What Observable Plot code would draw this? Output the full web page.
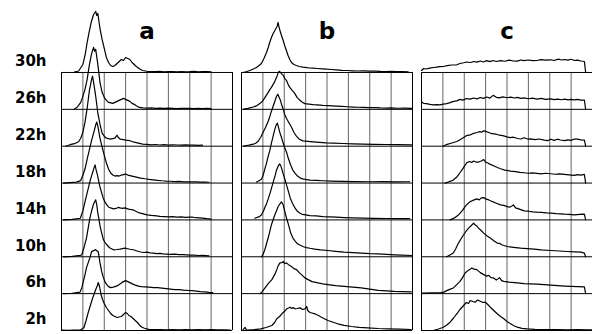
<!DOCTYPE html>
<html><head><meta charset="utf-8">
<script src="https://cdn.jsdelivr.net/npm/d3@7"></script>
<script src="https://cdn.jsdelivr.net/npm/@observablehq/plot@0.6"></script>
<style>body{margin:0;background:#fff}#chart svg{display:block}</style>
</head><body><div id="chart"></div>
<script>
const panels = ["a", "b", "c"];
const times = ["2h", "6h", "10h", "14h", "18h", "22h", "26h", "30h"]; // bottom row to top row
const gridCols = [0, 1, 2, 3, 4, 5, 6, 7, 8];

// panel a: [channel (grid units), count]
const a30 = [[0.6,0.4],[0.8,1.5],[1.0,8],[1.1,17],[1.2,30],[1.3,41],[1.4,51],[1.5,58],[1.6,61],[1.65,57],[1.7,59],[1.8,44],[1.9,33],[2.0,24],[2.1,15],[2.2,10],[2.3,7],[2.4,6],[2.5,7],[2.6,9],[2.7,11],[2.8,13],[2.9,12],[3.0,15],[3.1,14],[3.2,13],[3.3,10],[3.4,8],[3.5,6],[3.6,4.5],[3.7,3],[3.8,2],[4.0,1.2],[4.2,1],[4.4,0.8],[4.6,1.1],[4.8,0.7],[5.0,0.9],[5.2,0.8],[5.4,0.6],[5.6,1],[5.8,0.7],[6.0,0.8],[6.2,1.1],[6.4,0.7],[6.6,0.9],[6.8,0.8],[7.0,0.6]];
const a26 = [[0.6,0.3],[0.7,1.5],[0.8,4],[0.9,7],[1.0,13],[1.1,20],[1.2,30],[1.3,44],[1.4,55],[1.5,62],[1.55,58],[1.6,60],[1.7,45],[1.8,27],[1.9,17],[2.0,12],[2.1,9],[2.2,7],[2.3,6.5],[2.4,6],[2.5,7],[2.6,8],[2.7,9],[2.8,10],[2.9,11],[3.0,10],[3.1,9],[3.2,8],[3.3,6],[3.4,5],[3.5,3.5],[3.6,2.3],[3.8,1.5],[4.0,1.2],[4.2,1.4],[4.4,1],[4.6,1.3],[4.8,0.9],[5.0,1.2],[5.2,1],[5.4,0.8],[5.6,1.1],[5.8,0.9],[6.0,1],[6.2,0.8],[6.4,1],[6.6,0.7],[6.8,0.9],[7.0,0.7]];
const a22 = [[0.2,0],[0.4,1.5],[0.6,2.5],[0.8,4.5],[0.9,8],[1.0,14],[1.1,24],[1.2,38],[1.3,55],[1.4,66],[1.45,70],[1.5,64],[1.6,50],[1.7,33],[1.8,22],[1.9,13],[2.0,10],[2.1,8],[2.2,7.5],[2.3,7],[2.4,7.5],[2.5,8],[2.6,11],[2.65,9],[2.75,7],[2.9,6.5],[3.0,6],[3.2,5.5],[3.4,4],[3.6,3],[3.8,2],[4.0,1.8],[4.2,1.4],[4.4,1.7],[4.6,1.2],[4.8,1.5],[5.0,1.1],[5.2,1.4],[5.4,1.2],[5.6,1],[5.8,1.3],[6.0,1],[6.2,1.1],[6.4,0.8],[6.6,1]];
const a18 = [[0.1,0],[0.4,0.5],[0.7,1],[0.9,2.5],[1.0,8],[1.1,14],[1.2,24],[1.3,33],[1.4,42],[1.5,50],[1.6,58],[1.65,61],[1.7,57],[1.8,45],[1.9,36],[2.0,28],[2.1,20],[2.2,14],[2.3,10],[2.4,8],[2.5,7],[2.6,7.5],[2.7,7],[2.8,8],[2.9,8.5],[3.0,9],[3.1,8],[3.2,7.5],[3.3,7],[3.4,6.5],[3.5,6],[3.6,5.5],[3.7,5],[3.9,4.3],[4.1,3.7],[4.3,3.2],[4.5,2.7],[4.7,2.3],[4.9,2],[5.1,1.8],[5.3,1.5],[5.5,1.6],[5.7,1.2],[5.9,1.3],[6.1,1.1],[6.3,1.2],[6.5,0.9],[6.7,1],[6.9,0.8]];
const a14 = [[0.1,0],[0.5,0.6],[0.88,1.7],[1.0,9],[1.12,20],[1.2,27],[1.27,33],[1.35,40],[1.45,47],[1.52,52],[1.57,55],[1.62,50],[1.68,45],[1.73,40],[1.8,33],[1.88,27],[1.95,22],[2.03,18],[2.12,15],[2.2,13],[2.3,12],[2.43,11],[2.55,11.5],[2.65,12.5],[2.74,12],[2.85,11.5],[2.97,12],[3.1,11],[3.2,10.5],[3.36,10],[3.5,8.5],[3.65,7],[3.83,6],[4.0,5],[4.2,4.5],[4.45,4],[4.6,3.5],[4.8,3.3],[5.0,3],[5.2,3.2],[5.4,2.8],[5.6,3],[5.8,2.6],[6.0,2.8],[6.15,2.7],[6.3,2.2],[6.45,2],[6.6,1.7],[6.8,1.2],[7.0,0.8]];
const a10 = [[0.1,0],[0.5,0.5],[0.9,1.5],[0.95,2],[1.05,9],[1.17,19],[1.25,29],[1.33,39],[1.41,46],[1.49,52],[1.55,55],[1.6,57],[1.65,52],[1.69,45],[1.75,38],[1.81,30],[1.9,22],[1.96,17],[2.05,14],[2.12,12],[2.25,9],[2.43,7],[2.6,7.3],[2.74,7.7],[2.85,8.2],[2.97,8.7],[3.1,8],[3.2,7.5],[3.36,7],[3.5,6],[3.65,5],[3.83,4.3],[4.0,4.6],[4.15,3.9],[4.3,3.7],[4.45,3.2],[4.6,3.4],[4.75,2.9],[4.9,2.7],[5.1,2.5],[5.3,2.6],[5.5,2.2],[5.7,2.1],[5.85,2],[6.0,1.7],[6.2,1.6],[6.4,1.3],[6.6,1.4],[6.9,1]];
const a6 = [[0.1,0],[0.5,0.4],[0.87,1.5],[0.95,6],[1.02,12],[1.1,19],[1.17,26],[1.25,31],[1.33,36],[1.41,42],[1.5,43],[1.57,44],[1.65,43],[1.72,42],[1.8,31],[1.88,22],[1.96,16],[2.03,12],[2.12,9],[2.2,7],[2.3,6],[2.42,6.5],[2.5,7],[2.62,8],[2.72,9.5],[2.82,11],[2.9,12],[3.0,13],[3.1,12],[3.2,11],[3.29,10],[3.45,8.5],[3.6,7.5],[3.74,7],[3.9,6.8],[4.1,6.5],[4.3,6],[4.5,6],[4.7,5.5],[4.9,5],[5.1,4.5],[5.3,4],[5.5,4],[5.7,3.5],[5.9,3.2],[6.1,3],[6.3,2.5],[6.5,2],[6.7,1.7],[6.9,1.2],[7.07,1]];
const a2 = [[0.0,0.3],[0.3,0.2],[0.6,0.5],[0.88,0.5],[1.0,2],[1.05,3],[1.15,10],[1.25,18],[1.35,25],[1.45,32],[1.55,38],[1.62,42],[1.68,45],[1.72,48],[1.78,44],[1.85,36],[1.92,31],[2.0,27],[2.1,23],[2.2,20],[2.3,17],[2.4,15],[2.5,14],[2.6,13],[2.7,13.5],[2.8,14],[2.9,16],[3.0,18],[3.08,17],[3.15,15],[3.25,14],[3.35,12],[3.45,10],[3.55,8],[3.65,5.5],[3.75,3.5],[3.85,2.5],[3.95,1.8],[4.1,1],[4.3,0.8],[4.6,1],[4.9,0.7],[5.2,0.9],[5.5,0.6],[5.8,0.8],[6.1,0.7],[6.4,0.9],[6.7,0.6],[7.0,0.8],[7.3,0.6],[7.6,0.7],[7.9,0.5]];

// panel b
const b30 = [[0.08,0],[0.25,1],[0.39,2],[0.55,3.5],[0.7,5],[0.82,7],[0.93,9],[1.05,14],[1.17,20],[1.25,25],[1.32,30],[1.4,35],[1.48,39],[1.56,42],[1.64,45],[1.68,47],[1.71,50],[1.75,46],[1.8,42],[1.87,37],[1.95,32],[2.02,27],[2.1,22],[2.18,17],[2.26,13],[2.34,10],[2.45,8],[2.57,7],[2.7,6],[2.88,5.3],[3.05,4.8],[3.2,4.5],[3.35,4.3],[3.55,4],[3.8,3.7],[4.0,3.3],[4.2,3],[4.44,2.7],[4.7,2.2],[4.95,2],[5.2,1.7],[5.45,1.5],[5.7,1.6],[6.0,1.3],[6.25,1.4],[6.5,1.1],[6.78,1],[7.0,1.2],[7.25,0.8],[7.5,0.9],[7.8,0.7]];
const b26 = [[0.1,0.3],[0.3,1],[0.55,2.3],[0.7,3.5],[0.78,4.7],[0.9,6.5],[1.01,9],[1.13,13],[1.25,17],[1.33,20],[1.4,22],[1.48,25],[1.56,28],[1.64,32],[1.71,36],[1.76,38],[1.82,37],[1.9,35],[1.95,34],[2.02,31],[2.1,29],[2.18,25],[2.26,22],[2.37,19],[2.49,16],[2.6,12],[2.73,9],[2.85,7],[2.96,5.7],[3.15,5.2],[3.35,4.7],[3.55,4.5],[3.8,4],[4.05,3.8],[4.25,3.5],[4.44,3.3],[4.7,2.9],[4.95,2.6],[5.2,2.3],[5.45,2.1],[5.7,1.9],[6.0,1.7],[6.25,1.8],[6.5,1.4],[6.78,1.3],[7.0,1.4],[7.3,1.1],[7.6,1.2],[7.95,1]];
const b22 = [[0.1,0.2],[0.35,1],[0.55,2],[0.66,3],[0.78,5],[0.9,9],[1.01,14],[1.13,19],[1.25,25],[1.33,30],[1.4,35],[1.48,40],[1.56,45],[1.64,50],[1.7,52],[1.76,49],[1.82,46],[1.87,42],[1.95,37],[2.02,32],[2.1,28],[2.18,25],[2.26,22],[2.34,19],[2.45,14],[2.57,10],[2.7,7],[2.88,5.3],[3.1,4.8],[3.35,4.3],[3.65,3.8],[3.97,3.3],[4.3,3],[4.75,2.7],[5.2,2.3],[5.7,2],[6.2,1.8],[6.78,1.7],[7.3,1.5],[7.95,1.3]];
const b18 = [[0.7,1],[0.8,2],[0.93,3.7],[1.0,7],[1.09,14],[1.17,20],[1.25,27],[1.33,33],[1.4,40],[1.48,47],[1.56,54],[1.62,58],[1.68,60],[1.74,55],[1.8,50],[1.88,45],[1.95,40],[2.03,35],[2.12,30],[2.2,24],[2.3,18],[2.4,13],[2.5,10],[2.62,7],[2.75,5],[2.9,4],[3.2,3],[3.5,2.6],[3.8,2.3],[4.2,2],[4.75,1.7],[5.3,1.5],[6.0,1.3],[6.6,1.4],[7.2,1.2],[7.87,1.3]];
const b14 = [[0.62,1.7],[0.8,3],[0.87,4],[0.93,5],[1.03,9],[1.1,13],[1.17,16],[1.25,21],[1.34,27],[1.42,33],[1.5,39],[1.57,44],[1.64,50],[1.7,53],[1.78,56],[1.82,55],[1.87,52],[1.95,46],[2.04,40],[2.12,34],[2.2,28],[2.28,22],[2.38,17],[2.5,12],[2.6,9],[2.72,7],[2.85,5.5],[3.0,5],[3.2,4.3],[3.5,4],[3.8,3.3],[4.1,3],[4.44,2.7],[4.8,2.3],[5.2,2],[5.7,1.7],[6.2,1.6],[6.8,1.4],[7.3,1.3],[7.87,1.2]];
const b10 = [[0.93,0],[1.0,2],[1.09,7],[1.17,13],[1.25,19],[1.33,26],[1.4,32],[1.48,37],[1.56,42],[1.64,46],[1.71,50],[1.8,53],[1.87,55],[1.95,52],[2.02,46],[2.1,39],[2.2,32],[2.3,24],[2.4,19],[2.5,16],[2.62,13],[2.75,11.5],[2.9,10],[3.04,9.2],[3.2,8.5],[3.43,7.7],[3.7,7],[4.05,6.3],[4.4,5.5],[4.8,4.7],[5.2,4.2],[5.6,3.7],[6.0,3.2],[6.4,3],[6.8,2.4],[7.15,2],[7.5,1.7],[7.95,1.3]];
const b6 = [[0.87,0],[0.95,1.5],[1.1,5.7],[1.25,10],[1.42,14],[1.55,19],[1.65,24],[1.72,28],[1.8,30.7],[1.88,31],[1.96,32],[2.02,30],[2.1,30.7],[2.2,29],[2.35,27],[2.45,25],[2.58,24],[2.7,21],[2.81,19],[2.95,16],[3.12,14],[3.3,12],[3.58,10.7],[3.8,9.8],[4.05,9],[4.4,8],[4.8,7.3],[5.2,6.5],[5.6,5.7],[6.0,4.5],[6.4,3.3],[6.8,2.8],[7.15,2.3],[7.5,2],[7.94,1.7]];
const b2 = [[0.05,0],[0.12,2],[0.17,3],[0.22,1],[0.3,0.3],[0.6,0.8],[0.9,1.7],[1.15,3],[1.42,5],[1.55,8],[1.65,11.7],[1.78,14],[1.89,16.7],[2.0,19],[2.12,21.7],[2.2,22.5],[2.27,23.3],[2.35,22],[2.42,23],[2.5,21.7],[2.6,22],[2.74,22.7],[2.85,21],[2.97,21.7],[3.02,23],[3.05,24],[3.1,20],[3.2,18],[3.3,17.5],[3.43,16.7],[3.6,15],[3.74,13.3],[3.9,11.5],[4.05,10],[4.25,8.5],[4.5,6.7],[4.8,5.2],[5.15,4],[5.5,3.2],[5.9,2.7],[6.4,2],[6.85,1.7],[7.4,1.3],[7.94,1]];

// panel c
const c30 = [[0,2],[0.1,4],[0.2,3.5],[0.39,4.3],[0.55,5],[0.7,5.3],[0.85,5.8],[1.02,6],[1.2,6.8],[1.4,7.5],[1.65,7.7],[1.8,9],[1.97,9.7],[2.1,10.5],[2.3,10],[2.45,11],[2.59,10.3],[2.75,11.5],[2.9,10.5],[3.05,11.8],[3.2,10.8],[3.35,12],[3.5,11],[3.7,11.8],[3.9,11.2],[4.1,12.3],[4.3,11.5],[4.48,11.3],[4.65,12.5],[4.8,11.8],[5.0,12.5],[5.2,11.8],[5.4,12],[5.6,12.8],[5.8,12.3],[6.05,12.7],[6.2,12],[6.4,13.3],[6.55,12.5],[6.68,13],[6.85,12.3],[7.0,13.2],[7.15,12],[7.3,12.4],[7.45,11.5],[7.62,11],[7.68,0]];
const c26 = [[0,7.3],[0.1,6],[0.23,5.7],[0.4,5],[0.55,4.5],[0.7,4.7],[0.86,4.5],[1.02,5.2],[1.18,5.7],[1.34,6.7],[1.5,8],[1.65,8.5],[1.8,10],[1.95,9.2],[2.1,10.8],[2.28,10.2],[2.44,11.3],[2.6,10.5],[2.75,11.8],[2.9,11],[3.05,12.3],[3.2,11.2],[3.35,14],[3.5,12],[3.65,11.5],[3.8,12.5],[4.0,11.6],[4.17,12.2],[4.35,11.3],[4.48,12],[4.65,11],[4.8,11.5],[5.0,10.6],[5.2,11.2],[5.4,10.3],[5.6,10.9],[5.8,10],[6.05,10.5],[6.2,9.8],[6.37,10.3],[6.55,9.6],[6.7,10.2],[6.85,9.5],[7.0,10],[7.15,9.4],[7.3,10],[7.45,9.2],[7.62,9.3],[7.68,0]];
const c22 = [[1.0,0],[1.1,1],[1.2,1.8],[1.34,2.7],[1.5,3.7],[1.65,4.7],[1.8,6.5],[1.97,8.7],[2.1,10.5],[2.28,11.3],[2.4,12.5],[2.59,13.7],[2.7,14.5],[2.8,14],[2.91,15.3],[3.0,14.8],[3.15,13.7],[3.3,12.5],[3.5,12],[3.65,11],[3.8,10.5],[4.0,9.3],[4.15,8.5],[4.3,9],[4.5,7.7],[4.65,7.2],[4.8,8.5],[5.0,7],[5.1,7.3],[5.3,6.5],[5.5,7.2],[5.74,6],[5.9,5.5],[6.05,7],[6.2,5.8],[6.37,7],[6.5,6.2],[6.7,5.5],[6.84,6.3],[7.0,5.8],[7.15,7.2],[7.3,7],[7.45,6.3],[7.62,6],[7.68,0]];
const c18 = [[1.1,0],[1.25,1],[1.4,2.2],[1.49,3],[1.65,6],[1.8,10.3],[1.95,15],[2.12,20.3],[2.25,21.5],[2.35,20.5],[2.44,22],[2.55,21],[2.67,21],[2.8,22],[2.91,23.5],[3.0,21],[3.1,20],[3.22,18.7],[3.4,17],[3.55,15.5],[3.7,14.3],[3.9,13],[4.17,12],[4.4,11.5],[4.6,10.7],[4.8,10.3],[5.0,9.8],[5.2,10.2],[5.4,9.7],[5.6,9.2],[5.8,9.8],[6.05,9.3],[6.25,8.8],[6.45,9.2],[6.68,8.7],[6.9,8.2],[7.15,7.7],[7.3,8.5],[7.45,8],[7.62,8.7],[7.68,0]];
const c14 = [[1.34,0],[1.5,1.5],[1.6,3],[1.73,5],[1.9,9],[2.04,13.3],[2.15,16],[2.28,18.3],[2.4,19.5],[2.5,20.3],[2.59,21],[2.7,20],[2.8,22],[2.91,22.3],[3.0,21],[3.15,20],[3.3,18.5],[3.5,16.7],[3.7,15],[3.85,14.5],[4.0,13.3],[4.15,12.8],[4.3,15],[4.4,12],[4.55,11],[4.8,9],[5.0,8.7],[5.2,8],[5.4,7.7],[5.6,7.5],[5.85,7],[6.05,6.7],[6.3,6.2],[6.5,6],[6.68,5.7],[6.9,5.5],[7.15,5],[7.4,5.5],[7.62,5.7],[7.68,0]];
const c10 = [[1.18,0],[1.35,2],[1.49,3.7],[1.6,8],[1.73,13.7],[1.85,18],[1.97,22],[2.1,26],[2.2,28.7],[2.32,31],[2.44,33.7],[2.5,32],[2.58,31],[2.67,28.7],[2.8,26],[2.91,23.7],[3.05,21],[3.22,18.7],[3.38,16],[3.54,13.7],[3.65,13.5],[3.75,12],[4.0,10.3],[4.3,9.5],[4.64,8.7],[4.95,8.2],[5.27,7.7],[5.6,7],[6.05,6.3],[6.45,5.8],[6.84,5.3],[7.15,5],[7.46,4.7],[7.62,3.7],[7.68,0]];
const c6 = [[0.05,0.5],[0.5,0.8],[0.9,1],[1.05,1.5],[1.18,3],[1.35,4.5],[1.49,5.7],[1.65,9],[1.8,12.3],[1.92,16],[2.04,20.7],[2.2,23.5],[2.36,25.7],[2.45,24.5],[2.59,24],[2.75,21],[2.91,19],[3.05,17.5],[3.15,18.3],[3.25,16],[3.38,15.7],[3.5,13.5],[3.65,16],[3.75,13],[3.85,12.3],[4.1,11.5],[4.48,10.7],[4.8,10],[5.1,9.7],[5.4,9.5],[5.74,9],[6.05,8.5],[6.37,8],[6.7,7.6],[7.0,7.3],[7.3,7],[7.62,6.7],[7.68,0]];
const c2 = [[0.55,0],[0.8,1.5],[1.02,3.3],[1.18,5.5],[1.34,8.3],[1.5,12.5],[1.65,16.7],[1.8,21],[1.97,25],[2.1,28],[2.2,27],[2.28,30],[2.4,29],[2.52,28.3],[2.62,30.5],[2.75,29.3],[2.87,28],[2.99,28.3],[3.1,26],[3.22,23.3],[3.38,20],[3.54,16.7],[3.7,14],[3.85,11.7],[4.0,9],[4.17,6.7],[4.3,5],[4.48,3.3],[4.7,2.2],[4.95,1.7],[5.3,1.2],[5.74,1],[6.3,0.8],[6.84,0.7],[7.3,0.8],[7.78,0.7],[7.97,0.6]];

const seriesA = [a2, a6, a10, a14, a18, a22, a26, a30];
const seriesB = [b2, b6, b10, b14, b18, b22, b26, b30];
const seriesC = [c2, c6, c10, c14, c18, c22, c26, c30];

const ROW = 36.86; // counts between stacked baselines
const curveData = [];
[[ "a", seriesA ], [ "b", seriesB ], [ "c", seriesC ]].forEach(([p, list]) =>
  list.forEach((pts, i) => pts.forEach(([x, c]) =>
    curveData.push({panel: p, time: times[i], x, y: i * ROW + c}))));

const hLines = panels.flatMap(p => times.map((t, i) => ({panel: p, y: i * ROW})));
const vInner = panels.flatMap(p => gridCols.filter(x => x > 0 && x < 8).map(x => ({panel: p, x})));
const vEdge = panels.flatMap(p => [0, 8].map(x => ({panel: p, x})));
const rowLabels = times.map((t, i) => ({panel: "a", t, y: i * ROW + 11}));

const chart = Plot.plot({
  width: 592, height: 334,
  marginLeft: 61, marginRight: 0, marginTop: 0, marginBottom: 4,
  style: {fontFamily: "DejaVu Sans", background: "#fff"},
  fx: {domain: panels, paddingInner: 0.05, paddingOuter: 0, axis: null},
  x: {domain: [0, 8], axis: null},
  y: {domain: [0, 330], axis: null},
  marks: [
    Plot.ruleX(vInner, {fx: "panel", x: "x", y1: 0, y2: 7 * ROW, stroke: "#666", strokeWidth: 1}),
    Plot.ruleX(vEdge, {fx: "panel", x: "x", y1: 0, y2: 7 * ROW, stroke: "#000", strokeWidth: 1}),
    Plot.ruleY(hLines, {fx: "panel", y: "y", x1: 0, x2: 8, stroke: "#000", strokeWidth: 1}),
    Plot.line(curveData, {fx: "panel", x: "x", y: "y", z: d => d.panel + d.time, stroke: "#000", strokeWidth: 1.2}),
    Plot.text(rowLabels, {fx: "panel", x: -0.7, y: "y", text: "t", textAnchor: "end", fontSize: 15, fontWeight: "bold", fill: "#000"}),
    Plot.text(panels, {fx: d => d, x: 4, y: 292, text: d => d, lineAnchor: "bottom", fontSize: 23, fontWeight: "bold", fill: "#000"})
  ]
});
document.getElementById("chart").appendChild(chart);
</script>
</body></html>
